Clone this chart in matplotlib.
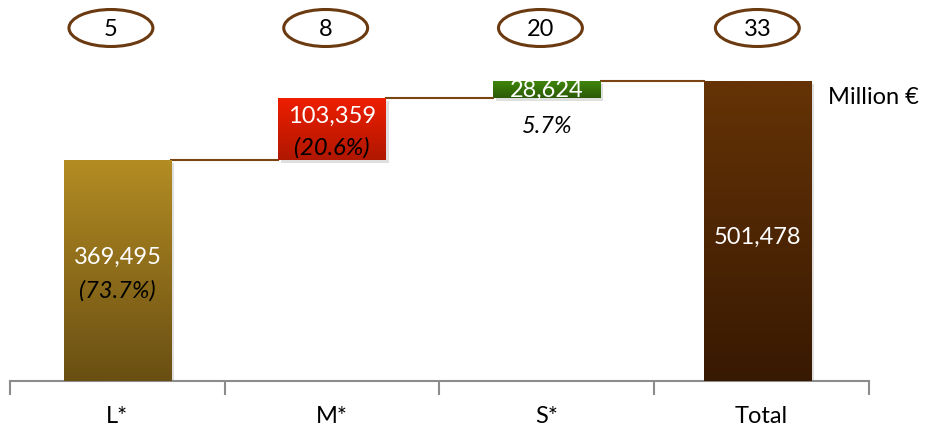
import matplotlib.pyplot as plt
import matplotlib.patches as mpatches
import matplotlib.patheffects as pe
from matplotlib.colors import to_rgb
import numpy as np

# données du graphique en cascade
categories = ['L*', 'M*', 'S*', 'Total']
valeurs = [369495, 103359, 28624, 501478]
parts = ['(73.7%)', '(20.6%)', '5.7%', None]
nombres = ['5', '8', '20', '33']
etiquettes = ['369,495', '103,359', '28,624', '501,478']

# couleurs (haut, bas) des dégradés
couleurs = [('#B38C23', '#6A4F13'),
            ('#EE1E00', '#B01700'),
            ('#41880B', '#2C5A07'),
            ('#653306', '#381902')]
brun = '#7A4512'

plt.rcParams['font.family'] = ['Lato', 'DejaVu Sans']

fig = plt.figure(figsize=(9.26, 4.27), dpi=100)
ax = fig.add_axes([10/926, 45/427, 859/926, 382/427])
ymax = 382/300*501478
ax.set_xlim(-0.5, 3.5)
ax.set_ylim(0, ymax)

largeur = 0.5
bas = [0, valeurs[0], valeurs[0]+valeurs[1], 0]
for i, v in enumerate(valeurs):
    x0 = i - largeur/2
    if i == 3:
        x0 -= 0.02
    rect = mpatches.Rectangle((x0, bas[i]), largeur, v, facecolor=couleurs[i][1],
                              edgecolor='none', zorder=2,
                              path_effects=[pe.SimplePatchShadow(offset=(2, -2), alpha=0.25, shadow_rgbFace='gray'), pe.Normal()])
    ax.add_patch(rect)
    grad = np.linspace(0, 1, 64)[:, None]
    c1 = np.array(to_rgb(couleurs[i][0]))
    c2 = np.array(to_rgb(couleurs[i][1]))
    img = (c1*(1-grad) + c2*grad)[:, None, :]
    im = ax.imshow(img, extent=[x0, x0+largeur, bas[i], bas[i]+v], aspect='auto',
                   origin='upper', zorder=3, interpolation='bilinear')
    im.set_clip_path(rect)

# lignes de liaison
niveaux = [valeurs[0], valeurs[0]+valeurs[1], valeurs[0]+valeurs[1]+valeurs[2]]
for i, n in enumerate(niveaux):
    fin = i + 1 - largeur/2 - (0.02 if i == 2 else 0)
    ax.plot([i + largeur/2, fin], [n, n], color=brun, lw=1.5, zorder=1)

# étiquettes
fs = 17
# L*
yc = valeurs[0]/2
ax.annotate(etiquettes[0], (0, yc), xytext=(0, 10), textcoords='offset points',
            ha='center', va='center', color='white', fontsize=fs, zorder=5)
ax.annotate(parts[0], (0, yc), xytext=(0, -14), textcoords='offset points',
            ha='center', va='center', color='black', fontsize=fs, style='italic', zorder=5)
# M*
yc = bas[1] + valeurs[1]/2
ax.annotate(etiquettes[1], (1, yc), xytext=(0, 10), textcoords='offset points',
            ha='center', va='center', color='white', fontsize=fs, zorder=5)
ax.annotate(parts[1], (1, yc), xytext=(0, -13), textcoords='offset points',
            ha='center', va='center', color='black', fontsize=fs, style='italic', zorder=5)
# S*
yc = bas[2] + valeurs[2]/2
ax.annotate(etiquettes[2], (2, yc), xytext=(0, 0), textcoords='offset points',
            ha='center', va='center', color='white', fontsize=fs, zorder=5)
ax.annotate(parts[2], (2, yc), xytext=(0, -26), textcoords='offset points',
            ha='center', va='center', color='black', fontsize=fs, style='italic', zorder=5)
# Total
ax.annotate(etiquettes[3], (2.98, valeurs[3]/2), xytext=(0, -4), textcoords='offset points',
            ha='center', va='center', color='white', fontsize=fs, zorder=5)

ax.text(3.31, valeurs[3]*0.95, 'Million €', ha='left', va='center', fontsize=fs,
        color='black', zorder=5)

# ellipses avec le nombre
ye = (382-29)/300*501478
for i, n in enumerate(nombres):
    xe = i - 0.03 if i < 3 else i - 0.02
    ell = mpatches.Ellipse((xe, ye), 84/215, 37*501478/300, facecolor='white',
                           edgecolor='#6B3A10', lw=2.2, zorder=4, clip_on=False)
    ax.add_patch(ell)
    ax.text(xe, ye, n, ha='center', va='center', fontsize=fs, color='black', zorder=5)

# axe
for s in ['top', 'right', 'left']:
    ax.spines[s].set_visible(False)
ax.spines['bottom'].set_color('#8C8C8C')
ax.spines['bottom'].set_linewidth(1.5)
ax.set_yticks([])
ax.set_xticks(range(len(categories)))
ax.set_xticklabels(categories, fontsize=fs)
ax.tick_params(axis='x', which='major', length=0, pad=17)
ax.set_xticks(np.arange(-0.5, 4, 1), minor=True)
ax.tick_params(axis='x', which='minor', length=10, width=1.5, color='#8C8C8C', direction='out')

fig.savefig('out.png', dpi=100)
